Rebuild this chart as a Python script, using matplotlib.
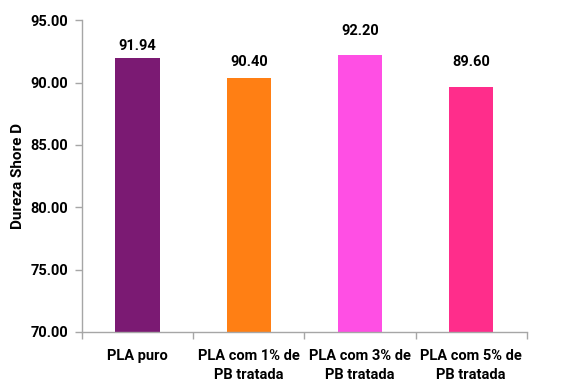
import matplotlib.pyplot as plt

categories = ["PLA puro", "PLA com 1% de\nPB tratada", "PLA com 3% de\nPB tratada", "PLA com 5% de\nPB tratada"]
hardness = [91.94, 90.40, 92.20, 89.60]
bar_colors = ["#7b1a73", "#ff7f14", "#ff4fe4", "#ff2d8b"]
label_offsets = [9, 11, 17, 18]  # points above each bar
yticks = [70, 75, 80, 85, 90, 95]

plt.rcParams['font.family'] = ['Roboto', 'DejaVu Sans']
plt.rcParams['font.weight'] = 'bold'

fig = plt.figure(figsize=(5.63, 3.85), dpi=100)
ax = fig.add_axes([0.1457, 0.1377, 0.79, 0.81])

x = range(len(categories))
ax.bar(x, hardness, width=0.4, color=bar_colors, bottom=0)
for i, v in enumerate(hardness):
    ax.annotate(f"{v:.2f}", (i, v), xytext=(0, label_offsets[i]), textcoords="offset points",
                ha="center", va="center", fontsize=10.5, fontweight="bold")

ax.set_ylim(70, 95)
ax.set_xlim(-0.5, len(categories) - 0.5)
ax.set_yticks(yticks)
ax.set_yticklabels([f"{t:.2f}" for t in yticks], fontsize=10.5, fontweight="bold")
ax.set_xticks(x)
ax.set_xticklabels(categories, fontsize=10.5, fontweight="bold", linespacing=1.5)
ax.tick_params(axis="x", length=0, pad=12)
ax.set_xticks([i - 0.5 for i in range(len(categories) + 1)], minor=True)
ax.tick_params(axis="x", which="minor", length=5, color="#a6a6a6", width=1)
ax.tick_params(axis="y", length=5, color="#a6a6a6", width=1, pad=5)
ax.set_ylabel("Dureza Shore D", fontsize=11, fontweight="bold", labelpad=4)

for side in ["top", "right"]:
    ax.spines[side].set_visible(False)
for side in ["left", "bottom"]:
    ax.spines[side].set_color("#a6a6a6")
    ax.spines[side].set_linewidth(1)

fig.savefig("out.png", dpi=100)
